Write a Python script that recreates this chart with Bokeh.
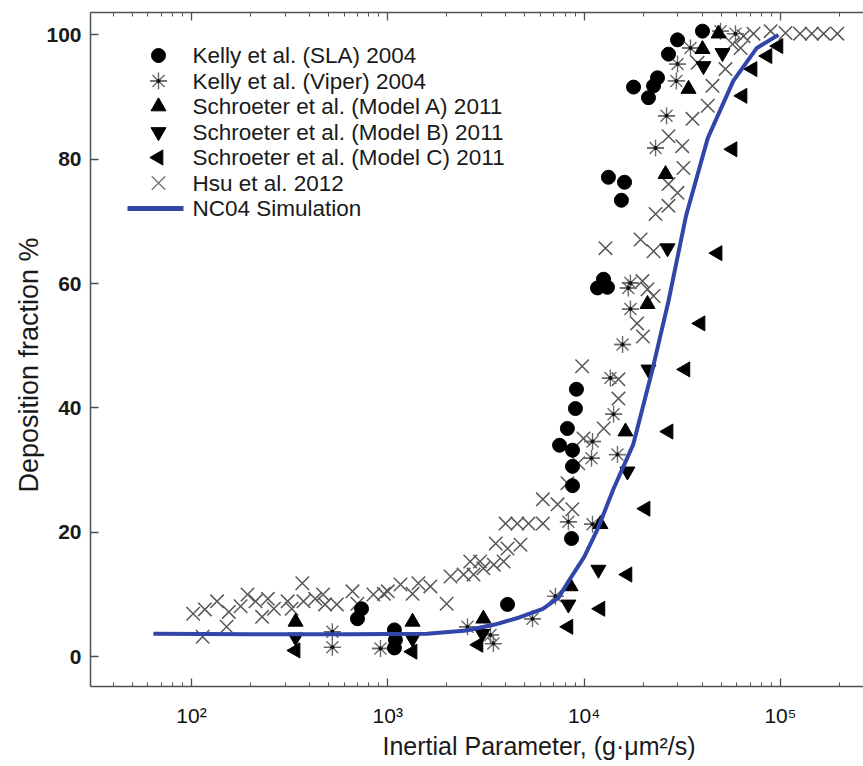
import numpy as np
from bokeh.plotting import figure
from bokeh.models import (Range1d, LogAxis, FixedTicker, LinearScale,
                          ColumnDataSource, Title)
from bokeh.core.properties import value
from bokeh.embed import file_html
from bokeh.resources import INLINE

# ---------------- data ----------------
sla_x = [735, 701, 1081, 1094, 1081, 4074, 9141, 9036, 8222, 7499, 8730, 8730,
         8730, 8630, 12560, 11700, 13150, 13300, 16070, 15490, 17860, 21280,
         22590, 23660, 26920, 29920, 40090]
sla_y = [7.7, 6.1, 4.3, 2.7, 1.4, 8.4, 43.0, 39.9, 36.7, 34.0, 33.2, 30.6,
         27.5, 19.0, 60.7, 59.3, 59.4, 77.1, 76.3, 73.4, 91.6, 89.9,
         91.8, 93.1, 96.9, 99.2, 100.6]

viper_x = [522, 522, 918, 2547, 3334, 3451, 5458, 7145, 8318, 11040, 10910,
           11040, 14130, 14790, 13610, 15700, 17220, 17220, 16790, 23120,
           26300, 29510, 29920, 34830, 49550, 59020]
viper_y = [4.0, 1.5, 1.3, 4.8, 3.5, 2.1, 6.1, 9.7, 21.7, 21.3, 31.9,
           34.6, 39.0, 32.5, 44.8, 50.2, 55.9, 60.1, 59.3, 81.8,
           87.0, 92.6, 95.3, 97.9, 100.6, 100.2]

ma_x = [339, 1337, 3069, 8531, 12110, 16250, 21040, 26000, 34040, 40090, 48420]
ma_y = [5.6, 5.6, 6.1, 11.3, 21.3, 36.2, 56.7, 77.6, 91.3, 97.7, 100.2]

mb_x = [339, 1337, 3034, 8318, 11830, 16630, 21280, 26610, 40550, 50700]
mb_y = [3.1, 2.9, 3.7, 8.4, 14.0, 29.8, 46.2, 65.7, 95.0, 97.1]

mc_x = [339, 1337, 2897, 8318, 12110, 16630, 20560, 26920, 32810, 39170,
        47860, 57020, 64120, 72110, 85900, 97720]
mc_y = [1.0, 0.8, 1.9, 4.8, 7.7, 13.2, 23.8, 36.2, 46.2, 53.6,
        64.9, 81.6, 90.2, 94.5, 96.6, 98.2]

hsu_x = [114, 102, 117, 135, 155, 151, 178, 193, 212, 229, 245, 263, 309,
         324, 367, 372, 427, 468, 479, 550, 661, 700, 845, 955, 1000, 1161,
         1337, 1432, 1648, 1995, 2089, 2432, 2735, 2630, 2951, 3069, 3467,
         3890, 3548, 4074, 4742, 3981, 4571, 5212, 6166, 6166, 7328, 8710,
         8222, 9333, 9931, 12590, 9772, 14960, 14960, 18620, 19950, 19820,
         21040, 22590, 12850, 19410, 22590, 23120, 26920, 29920, 26920,
         32060, 31620, 26920, 35650, 42660, 45080, 52480, 37840, 57020,
         62660, 64860, 72950, 89130, 106200, 125900, 144500, 166000, 195000]
hsu_y = [3.2, 6.9, 7.6, 8.9, 7.2, 4.8, 8.1, 10.0, 8.9, 6.4, 9.3, 7.7, 8.9,
         7.7, 11.8, 8.9, 9.3, 10.0, 8.4, 8.4, 10.5, 8.5, 10.0, 10.1, 10.5, 11.6,
         10.1, 11.8, 11.3, 8.5, 12.9, 13.2, 13.2, 15.3, 15.3, 14.2, 14.8,
         15.3, 18.2, 17.4, 18.0, 21.4, 21.4, 21.4, 21.4, 25.3, 24.5, 23.7,
         27.9, 31.1, 35.1, 36.7, 46.7, 44.6, 41.5, 53.6, 51.5, 60.4,
         59.1, 58.0, 65.7, 67.1, 65.2, 71.2, 72.5, 74.6, 76.0,
         78.6, 82.1, 83.7, 86.5, 88.6, 91.8, 94.5, 95.5, 98.5,
         97.9, 99.8, 100.2, 100.6, 100.3, 100.2, 100.2, 100.2, 100.2]

sim_x = [64, 200, 631, 1585, 2512, 3548, 4677, 6166, 7413, 8511, 10000, 11749,
         14125, 17783, 22387, 26915, 33113, 42658, 57544, 75858, 97724]
sim_y = [3.7, 3.6, 3.6, 3.7, 4.2, 5.2, 6.3, 7.7, 9.5, 12.6, 16.0, 20.6,
         27.0, 34.1, 46.4, 57.2, 71.0, 83.4, 92.6, 97.9, 100.0]

x_tick_values = [100, 1000, 10000, 100000]
x_tick_labels = ["10\u00b2", "10\u00b3", "10\u2074", "10\u2075"]
y_tick_values = [0, 20, 40, 60, 80, 100]

names = ["Kelly et al. (SLA) 2004", "Kelly et al. (Viper) 2004",
         "Schroeter et al. (Model A) 2011", "Schroeter et al. (Model B) 2011",
         "Schroeter et al. (Model C) 2011", "Hsu et al. 2012", "NC04 Simulation"]

# ---------------- figure ----------------
AX = "#4b5257"
FONT = "Liberation Sans"
FRAME_W, FRAME_H = 773, 674

p = figure(width=863, height=766, x_axis_type="log",
           x_range=Range1d(30.6, 265000), y_range=Range1d(-4.8, 103.6),
           output_backend="svg", toolbar_location=None,
           min_border_left=90, min_border_right=0, min_border_top=12,
           min_border_bottom=80)
p.xgrid.visible = False
p.ygrid.visible = False
p.outline_line_color = None
p.background_fill_color = "white"
p.border_fill_color = "white"

# pixel-space ranges used only for placing the legend
p.extra_x_ranges = {"px": Range1d(0, FRAME_W)}
p.extra_x_scales = {"px": LinearScale()}
p.extra_y_ranges = {"py": Range1d(0, FRAME_H)}
p.extra_y_scales = {"py": LinearScale()}

minor = [k * 10 ** d for d in range(1, 6) for k in range(2, 10)]
xticker = FixedTicker(ticks=x_tick_values, minor_ticks=minor)
yticker = FixedTicker(ticks=y_tick_values)

def style(ax):
    ax.axis_line_color = AX
    ax.axis_line_width = 1.5
    ax.major_tick_line_color = AX
    ax.major_tick_line_width = 1.3
    ax.minor_tick_line_color = AX
    ax.minor_tick_line_width = 1.0
    ax.major_tick_in = 8
    ax.major_tick_out = 0
    ax.minor_tick_in = 4
    ax.minor_tick_out = 0

xa = p.xaxis[0]
xa.ticker = xticker
xa.major_label_overrides = dict(zip(x_tick_values, x_tick_labels))
style(xa)
xa.major_label_text_font = FONT
xa.major_label_text_font_size = "21px"
xa.major_label_text_color = "#111111"
xa.major_label_standoff = 17

ya = p.yaxis[0]
ya.ticker = yticker
style(ya)
ya.minor_tick_line_color = None
ya.major_label_text_font = FONT
ya.major_label_text_font_style = "bold"
ya.major_label_text_font_size = "21px"
ya.major_label_text_color = "#1a1a1a"
ya.major_label_standoff = 9

top = LogAxis(ticker=xticker)
style(top)
top.major_label_text_font_size = "0px"
top.major_label_text_color = None
top.major_label_standoff = 0
p.add_layout(top, "above")

p.add_layout(Title(text="Inertial Parameter, (g\u00b7\u03bcm\u00b2/s)",
                   align="left", offset=292, text_font=FONT,
                   text_font_size="25px", text_font_style="normal",
                   text_color="#1a1a1a", standoff=0), "below")
p.add_layout(Title(text="Deposition fraction %", align="left", offset=194,
                   text_font=FONT, text_font_size="27px",
                   text_font_style="normal", text_color="#1a1a1a",
                   standoff=0), "left")

# ---------------- glyphs ----------------
GRAY_X = "#575757"
GRAY_V = "#6a6a6a"

p.scatter(hsu_x, hsu_y, marker="x", size=19, line_color=GRAY_X, line_width=1.5)

vsrc = ColumnDataSource(dict(x=viper_x, y=viper_y))
p.scatter("x", "y", source=vsrc, marker="asterisk", size=17,
          line_color=GRAY_V, line_width=1.4)
p.scatter("x", "y", source=vsrc, marker="dash", size=17,
          line_color=GRAY_V, line_width=1.4)
p.scatter("x", "y", source=vsrc, marker="circle", size=4,
          fill_color="#111111", line_color=None)

p.scatter(sla_x, sla_y, marker="circle", size=14, fill_color="black",
          line_color="black")
p.scatter(ma_x, ma_y, marker="triangle", size=15, fill_color="black",
          line_color="black")
p.scatter(mb_x, mb_y, marker="inverted_triangle", size=15,
          fill_color="black", line_color="black")
p.scatter(mc_x, mc_y, marker="triangle", angle=np.pi / 2, size=15,
          fill_color="black", line_color="black")

p.line(sim_x, sim_y, line_color="#3146a8", line_width=4)

# ---------------- legend (drawn in pixel space) ----------------
LEG_MX, LEG_TX, LEG_Y0, LEG_DY = 68, 102, 631, 25.5
rows = [LEG_Y0 - LEG_DY * i for i in range(7)]
kw = dict(x_range_name="px", y_range_name="py")

p.scatter([LEG_MX], [rows[0]], marker="circle", size=14, fill_color="black",
          line_color="black", **kw)
p.scatter([LEG_MX], [rows[1]], marker="asterisk", size=17, line_color=GRAY_V,
          line_width=1.4, **kw)
p.scatter([LEG_MX], [rows[1]], marker="dash", size=17, line_color=GRAY_V,
          line_width=1.4, **kw)
p.scatter([LEG_MX], [rows[1]], marker="circle", size=4, fill_color="#111111",
          line_color=None, **kw)
p.scatter([LEG_MX], [rows[2]], marker="triangle", size=15, fill_color="black",
          line_color="black", **kw)
p.scatter([LEG_MX], [rows[3]], marker="inverted_triangle", size=15,
          fill_color="black", line_color="black", **kw)
p.scatter([LEG_MX], [rows[4]], marker="triangle", angle=np.pi / 2, size=15,
          fill_color="black", line_color="black", **kw)
p.scatter([LEG_MX], [rows[5]], marker="x", size=19, line_color="#7a7a7a",
          line_width=1.5, **kw)
p.line([LEG_MX - 31, LEG_MX + 25], [rows[6], rows[6]], line_color="#3146a8",
       line_width=5, **kw)
p.text([LEG_TX] * 7, rows, text=names, text_font=value(FONT),
       text_font_size="22.5px", text_color="#1a1a1a", text_baseline="middle",
       text_align="left", **kw)

open("out.html", "w").write(file_html(p, INLINE))
